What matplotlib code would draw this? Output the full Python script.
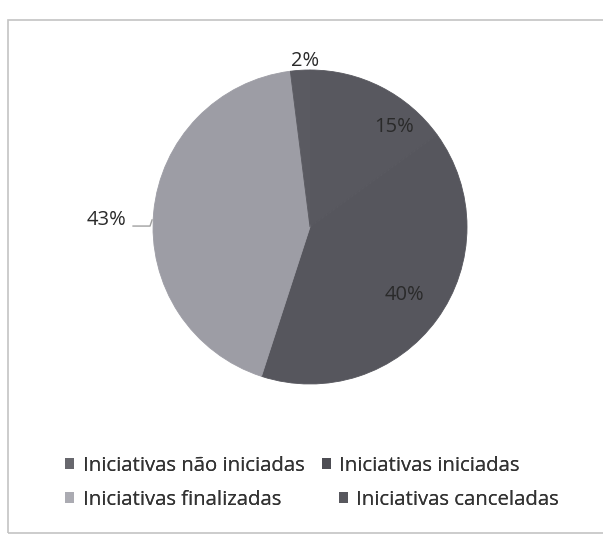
import matplotlib.pyplot as plt
import numpy as np
from matplotlib.patches import Rectangle
from matplotlib.lines import Line2D

# dados do gráfico (ordem da legenda)
categorias = ["Iniciativas não iniciadas", "Iniciativas iniciadas",
              "Iniciativas finalizadas", "Iniciativas canceladas"]
valores = [15, 40, 43, 2]
rotulos = ["15%", "40%", "43%", "2%"]
cores = ["#58585f", "#56565d", "#9d9da5", "#5a5a61"]
cores_leg = ["#67676d", "#4d4d53", "#ababb2", "#58585e"]

plt.rcParams['font.family'] = ['Open Sans', 'DejaVu Sans']

W, H = 603, 536
fig = plt.figure(figsize=(W / 100, H / 100), dpi=100)
fig.patch.set_facecolor("white")

# moldura do gráfico
fig.patches.append(Rectangle((8 / W, 3 / H), 600 / W, 513 / H, transform=fig.transFigure,
                             fill=False, edgecolor="#c4c4c4", lw=1.2))

cx, cy, r = 310, 227, 157
ax = fig.add_axes([(cx - r) / W, (H - cy - r) / H, 2 * r / W, 2 * r / H])
wedges, _ = ax.pie(valores, colors=cores, startangle=90, counterclock=False,
                   wedgeprops=dict(linewidth=0.6))
for w in wedges:
    w.set_edgecolor(w.get_facecolor())
ax.set_xlim(-1, 1)
ax.set_ylim(-1, 1)
ax.set_aspect("equal")
ax.axis("off")

# posição dos rótulos: (raio relativo, desvio angular em graus)
pos_rot = [(0.83, -13), (0.74, 0), (1.30, 3.5), (1.06, -1.9)]
for w, txt, (rr, da) in zip(wedges, rotulos, pos_rot):
    ang = np.deg2rad((w.theta1 + w.theta2) / 2 + da)
    ax.text(rr * np.cos(ang), rr * np.sin(ang), txt, ha="center", va="center",
            fontsize=14.5, color="#2a2a2a")

# linha de chamada do rótulo 43%
ax.add_line(Line2D([-1.127, -1.019, -1.006], [0.006, 0.006, 0.045],
                   color="#a0a0a0", lw=1, clip_on=False))

# legenda: duas linhas, cada uma com o seu espaçamento (como no Excel)
handles = [Rectangle((0, 0), 1, 1, facecolor=c, edgecolor="none") for c in cores_leg]
linhas = [([0, 1], 448, 0.85), ([2, 3], 482, 2.85)]
for idx, ytop, espaco in linhas:
    leg = fig.legend([handles[i] for i in idx], [categorias[i] for i in idx], ncol=2,
                     loc="upper left", bbox_to_anchor=(57 / W, 1 - ytop / H),
                     frameon=False, fontsize=14.7, handlelength=0.45, handleheight=0.45,
                     handletextpad=0.4, columnspacing=espaco, labelcolor="#333333",
                     borderaxespad=0)
    fig.add_artist(leg)

fig.savefig("out.png", dpi=100)
